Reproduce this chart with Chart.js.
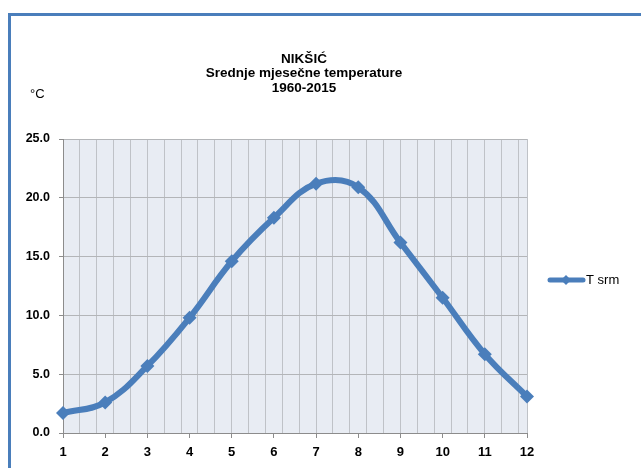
<!DOCTYPE html>
<html>
<head>
<meta charset="utf-8">
<script src="https://cdn.jsdelivr.net/npm/chart.js@4.4.1/dist/chart.umd.min.js"></script>
<style>
  body { margin: 0; background: #fff; }
  #frame { position: absolute; left: 8px; top: 13px; width: 640px; height: 460px;
           border-left: 3px solid #4a7ebb; border-top: 3px solid #4a7ebb; }
  #wrap { position: absolute; left: 0; top: 0; width: 641px; height: 468px; }
</style>
</head>
<body>
<div id="frame"></div>
<div id="wrap"><canvas id="tempChart" width="641" height="468"></canvas></div>
<script>
// chart data
const months = [1, 2, 3, 4, 5, 6, 7, 8, 9, 10, 11, 12];
const tSrm = [1.7, 2.6, 5.7, 9.8, 14.6, 18.3, 21.2, 20.9, 16.2, 11.5, 6.7, 3.1];
const titleLines = ["NIKŠIĆ", "Srednje mjesečne temperature", "1960-2015"];
const seriesName = "T srm";
const unitLabel = "°C";

const FONT = "'Liberation Sans', Arial, sans-serif";
const BLUE = "#4a7ebb";

// plot area background
const plotBg = {
  id: "plotBg",
  beforeDraw(chart) {
    const { ctx, chartArea: a } = chart;
    ctx.save();
    ctx.fillStyle = "#e8ecf3";
    ctx.fillRect(a.left, a.top, a.right - a.left, a.bottom - a.top);
    ctx.restore();
  }
};

// title, unit label and legend
const extras = {
  id: "extras",
  afterDraw(chart) {
    const { ctx, chartArea: a } = chart;
    ctx.save();
    ctx.fillStyle = "#000";
    ctx.textAlign = "center";
    ctx.textBaseline = "middle";
    ctx.font = "bold 13.5px " + FONT;
    titleLines.forEach((t, i) => ctx.fillText(t, 304, 59 + i * 14.5));

    ctx.font = "13px " + FONT;
    ctx.textAlign = "left";
    ctx.fillText(unitLabel, 30, 94);

    // legend
    const ly = 280;
    const lx = a.right + 23;
    ctx.strokeStyle = BLUE;
    ctx.lineWidth = 5;
    ctx.lineCap = "round";
    ctx.beginPath();
    ctx.moveTo(lx, ly);
    ctx.lineTo(lx + 33, ly);
    ctx.stroke();
    ctx.fillStyle = BLUE;
    ctx.beginPath();
    ctx.moveTo(lx + 16, ly - 5);
    ctx.lineTo(lx + 21, ly);
    ctx.lineTo(lx + 16, ly + 5);
    ctx.lineTo(lx + 11, ly);
    ctx.closePath();
    ctx.fill();
    ctx.fillStyle = "#000";
    ctx.font = "13px " + FONT;
    ctx.fillText(seriesName, lx + 36, ly);
    ctx.restore();
  }
};

const clear = "rgba(0,0,0,0)";
const isWhole = v => Math.abs(v - Math.round(v)) < 1e-6;

window.addEventListener("load", () => {
  const ctx = document.getElementById("tempChart").getContext("2d");
  new Chart(ctx, {
    type: "line",
    data: {
      datasets: [{
        label: seriesName,
        data: months.map((m, i) => ({ x: m, y: tSrm[i] })),
        borderColor: BLUE,
        backgroundColor: BLUE,
        borderWidth: 6,
        tension: 0.4,
        pointStyle: "rectRot",
        pointRadius: 7,
        pointBorderWidth: 0,
        pointBackgroundColor: BLUE,
        clip: false
      }]
    },
    options: {
      responsive: false,
      animation: false,
      events: [],
      layout: { padding: { top: 139, right: 114, bottom: 0, left: 0 } },
      plugins: { legend: { display: false }, title: { display: false }, tooltip: { enabled: false } },
      scales: {
        x: {
          type: "linear",
          min: 1,
          max: 12,
          afterFit(scale) { scale.height = 35; },
          ticks: {
            stepSize: 0.2,
            autoSkip: false,
            maxRotation: 0,
            padding: 7,
            color: "#000",
            font: { family: FONT, size: 13, weight: "bold" },
            callback: v => isWhole(v) ? String(Math.round(v)) : ""
          },
          grid: {
            tickLength: 5,
            color: c => {
              const v = c.tick ? c.tick.value : 0;
              const k = Math.round((v - 1) / 0.2);
              return (k % 2 === 0 || v >= 12) ? "#bfc2c7" : clear;
            },
            tickColor: c => (c.tick && isWhole(c.tick.value)) ? "#8c8c8c" : clear
          },
          border: { color: "#8c8c8c" }
        },
        y: {
          min: 0,
          max: 25,
          afterFit(scale) { scale.width = 63; },
          ticks: {
            stepSize: 5,
            padding: 9,
            color: "#000",
            font: { family: FONT, size: 12.5, weight: "bold" },
            callback: v => v.toFixed(1)
          },
          grid: { color: "#b3b5b8", tickLength: 4, tickColor: "#8c8c8c" },
          border: { color: "#8c8c8c" }
        }
      }
    },
    plugins: [plotBg, extras]
  });
});
</script>
</body>
</html>
